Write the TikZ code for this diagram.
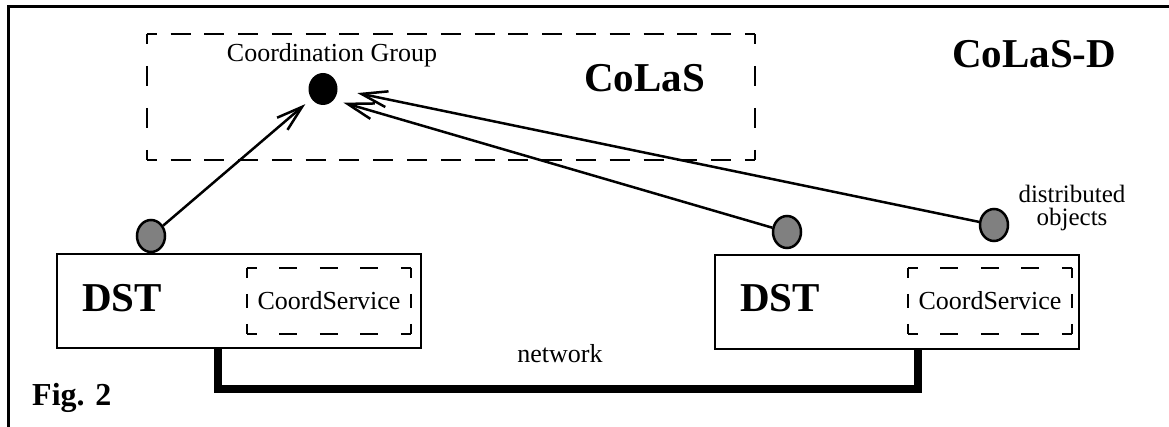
\documentclass[tikz,border=0pt]{standalone}
\usepackage{fontspec}
\setmainfont{Liberation Serif}
\usetikzlibrary{shapes.geometric,arrows.meta}
\begin{document}
\begin{tikzpicture}[x=1pt,y=-1pt,
    dstbox/.style={draw,line width=2.5pt,minimum width=364pt,minimum height=94pt,inner sep=0pt},
    svcbox/.style={minimum width=164pt,minimum height=66pt,inner sep=0pt,font=\fontsize{26}{30}\selectfont},
    svch/.style={line width=2.5pt,dash pattern=on 18pt off 22.5pt,dash phase=8pt},
    svcv/.style={line width=2.5pt,dash pattern=on 14pt off 16pt,dash phase=4pt},
    obj/.style={ellipse,draw,line width=2.5pt,fill=gray,minimum width=28pt,minimum height=32pt,inner sep=0pt},
    bigtxt/.style={font=\fontsize{41}{45}\selectfont\bfseries,inner sep=0pt},
    txt/.style={font=\fontsize{26}{30}\selectfont,inner sep=0pt},
    link/.style={line width=2.5pt,-{Straight Barb[length=26pt,width=16pt]}}]
    \useasboundingbox (0,0) rectangle (1169,427);

    % Frame
    \draw[line width=3pt] (8,427) -- (8,7) -- (1169,7);
    \node[bigtxt,anchor=base west] (colasd) at (952,68) {CoLaS-D};

    % CoLaS layer
    \node[minimum width=608pt,minimum height=126pt,inner sep=0pt] (colas) at (451,97) {};
    \draw[line width=2.5pt,dash pattern=on 20pt off 13.78pt,dash phase=10pt]
      (colas.north west) -- (colas.north east) (colas.south west) -- (colas.south east);
    \draw[line width=2.5pt,dash pattern=on 20pt off 22pt,dash phase=10pt]
      (colas.north west) -- (colas.south west) (colas.north east) -- (colas.south east);
    \node[bigtxt,anchor=base west] (colastitle) at (584,92) {CoLaS};
    \node[txt,anchor=base] (cglabel) at (332,62) {Coordination Group};
    \node[ellipse,fill=black,minimum width=29pt,minimum height=32pt,inner sep=0pt] (cg) at (323,89) {};

    % DST boxes
    \node[dstbox] (dstL) at (239,301) {};
    \node[bigtxt,anchor=base west] (dstLt) at (82,312) {DST};
    \node[svcbox] (svcL) at (329,301) {CoordService};
    \node[dstbox] (dstR) at (897,302) {};
    \node[bigtxt,anchor=base west] (dstRt) at (740,312) {DST};
    \node[svcbox] (svcR) at (990,301) {CoordService};
    \foreach \b in {svcL,svcR} {
      \draw[svch] (\b.north west) -- (\b.north east) (\b.south west) -- (\b.south east);
      \draw[svcv] (\b.north west) -- (\b.south west) (\b.north east) -- (\b.south east);
    }

    % Distributed objects
    \node[obj] (gL) at (151,236) {};
    \node[obj] (gM) at (787,232) {};
    \node[obj] (gR) at (994,225) {};
    \node[align=center,font=\fontsize{25}{23}\selectfont,inner sep=0pt] (objlabel) at (1072,208) {distributed\\objects};

    % Arrows to the group
    \draw[link,shorten >=8pt] (gL) -- (cg);
    \draw[link,shorten >=10pt] (gM) -- (cg.-45);
    \draw[link,shorten >=20pt] (gR) -- (cg.east);

    % Network
    \coordinate (netL) at (218,389);
    \coordinate (netR) at (918,389);
    \draw[line width=8pt] (netL |- dstL.south) -- (netL) -- (netR) -- (netR |- dstR.south);
    \node[txt,anchor=base] (netlabel) at (560,362) {network};
    \node[font=\fontsize{32}{36}\selectfont\bfseries,anchor=base west,inner sep=0pt] (fig) at (32,405) {Fig. 2};
\end{tikzpicture}
\end{document}
